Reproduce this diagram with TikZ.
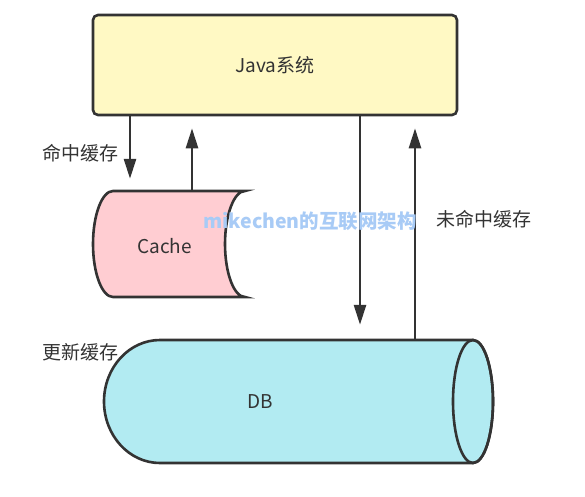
\documentclass[tikz,border=0pt]{standalone}
\usepackage{fontspec}
\setmainfont{Noto Sans CJK SC}
\usetikzlibrary{arrows.meta,positioning,fit}
\definecolor{linegray}{HTML}{333333}
\definecolor{javafill}{HTML}{FFF9C4}
\definecolor{cachefill}{HTML}{FFCDD2}
\definecolor{dbfill}{HTML}{B2EBF2}
\definecolor{markblue}{HTML}{A8CBF6}
\tikzset{
  shape line/.style={draw=linegray, line width=2.6pt},
  flow arrow/.style={-{Triangle[length=20pt,width=12pt]}, draw=linegray, line width=2.6pt},
  fit spot/.style={inner sep=0pt, draw=none, fill=none},
  caption/.style={text=linegray, font=\fontsize{19}{19}\selectfont, inner sep=0pt}
}

\begin{document}
\begin{tikzpicture}[x=1pt,y=-1pt]
  \useasboundingbox[fill=white] (0,0) rectangle (585,496);

  \node[shape line, fill=javafill, rounded corners=5pt, minimum width=364pt, minimum height=100pt, caption] (java) at (275,65) {Java系统};

  % cache drum
  \draw[shape line, fill=cachefill] (113,191) -- (245,191)
    .. controls (234,191) and (225,215) .. (225,244)
    .. controls (225,273) and (234,297) .. (245,297) -- (113,297)
    .. controls (102,297) and (93,273) .. (93,244)
    .. controls (93,215) and (102,191) .. (113,191) -- cycle;
  \node[fit spot, fit={(93,191) (245,297)}] (cache) {};
  \node[caption] (cache_label) at (164.5,246) {Cache};

  % db cylinder
  \draw[shape line, fill=dbfill] (160,340) -- (473,340) arc (-90:90:20 and 61.5)
    -- (160,463) arc (90:270:56 and 61.5) -- cycle;
  \draw[shape line] (473,401.5) ellipse (20 and 61.5);
  \node[fit spot, fit={(104,340) (493,463)}] (db) {};
  \node[caption] (db_label) at (260.5,402) {DB};

  \coordinate (hitx) at (130,0);
  \coordinate (fillx) at (192,0);
  \coordinate (missx) at (360,0);
  \coordinate (loadx) at (415,0);

  \draw[flow arrow] (java.south -| hitx) -- ([yshift=12pt]cache.north -| hitx);
  \draw[flow arrow] (cache.north -| fillx) -- ([yshift=-12pt]java.south -| fillx);
  \draw[flow arrow] (java.south -| missx) -- ([yshift=15pt]db.north -| missx);
  \draw[flow arrow] (db.north -| loadx) -- ([yshift=-12pt]java.south -| loadx);

  \node[caption] (hit_label) at (80,153) {命中缓存};
  \node[caption] (miss_label) at (484,219) {未命中缓存};
  \node[caption] (update_label) at (80,352) {更新缓存};

  \node[text=markblue, font=\bfseries\fontsize{19.5}{19.5}\selectfont, inner sep=0pt] (watermark) at (310,221) {mikechen的互联网架构};
\end{tikzpicture}
\end{document}
